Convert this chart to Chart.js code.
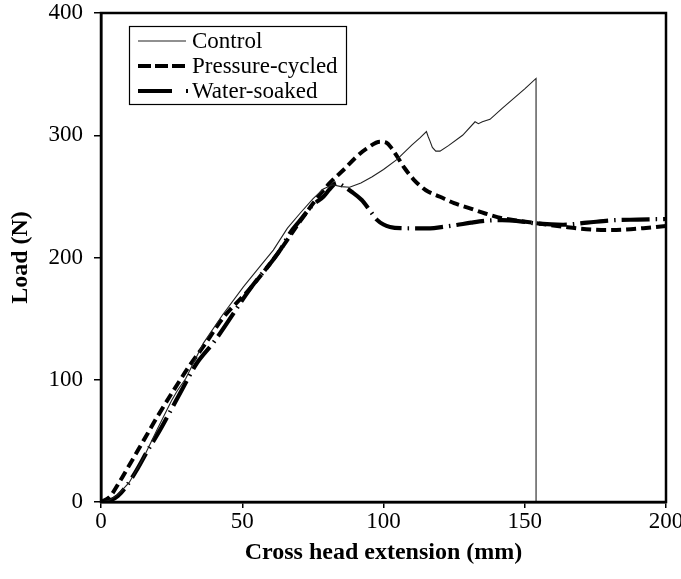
<!DOCTYPE html>
<html>
<head>
<meta charset="utf-8">
<script src="https://cdn.jsdelivr.net/npm/chart.js@4/dist/chart.umd.min.js"></script>
<style>
  html, body { margin: 0; padding: 0; background: #ffffff; }
  #wrap { width: 681px; height: 579px; position: relative; }
</style>
</head>
<body>
<div id="wrap"><canvas id="c" width="681" height="579"></canvas></div>
<script>
// ---- Data ----
const seriesNames = ["Control", "Pressure-cycled", "Water-soaked"];

const controlX = [0, 3, 6, 10, 15, 20, 25, 27, 30, 36.2, 43, 50.4, 56, 61, 66, 70.4, 75, 78.7, 82, 85, 88, 92, 96, 100, 104.7, 110, 113, 115.2, 115.8, 116.5, 117.3, 118.5, 120, 123, 128, 132.4, 133.6, 135, 137.7, 142, 146, 150, 154, 154];
const controlY = [0, 1.5, 6, 16, 36, 60, 83, 91, 101, 129.8, 153, 176, 192, 206, 224, 236, 248, 256, 259.5, 258, 257.5, 261, 266, 272, 280, 292, 298, 303, 299, 295, 290, 287, 287, 291.5, 300, 311, 309.5, 311, 313, 322, 330, 338, 346.5, 0];

const pressureX = [0, 3, 6.7, 10, 15, 20, 25.6, 31.5, 36.8, 43, 53.3, 63.4, 70, 76, 81, 86, 90.5, 94, 98.8, 101, 103, 105, 107.5, 110.6, 115, 120, 125, 130.6, 136, 142.4, 148, 154.2, 163.6, 170, 179, 185, 192, 200];
const pressureY = [0, 4, 17, 30, 50, 70, 91, 112, 129, 150, 176, 206, 228, 247, 261, 272, 282.5, 289, 294.7, 294, 289, 282, 273, 264, 255, 249.7, 244.5, 240.2, 236, 232, 230, 228, 225.2, 223.5, 222.5, 222.8, 224, 225.8];

const waterX = [0, 3, 6, 9, 12.6, 16, 20.9, 24, 28.6, 33.9, 40, 53.3, 63.4, 66.9, 70, 75, 78.7, 81, 83.4, 86, 88.7, 92.3, 95, 97.6, 100, 102.3, 106, 111, 116.5, 121, 125.9, 131, 137.7, 142, 147, 154.2, 163.6, 172, 181.3, 190, 200];
const waterY = [0, 1, 5, 13, 26, 40, 59, 72, 91.6, 113.5, 131, 176, 206, 220, 229, 243, 249.7, 256, 261, 258, 253.8, 247, 239, 231, 227, 225, 224, 223.9, 223.9, 225, 226.6, 228.5, 230.3, 230.5, 230, 227.8, 226.8, 228.5, 230.5, 231, 231.5];

const xTicks = [0, 50, 100, 150, 200];
const yTicks = [0, 100, 200, 300, 400];
const xTitle = "Cross head extension (mm)";
const yTitle = "Load (N)";

function pts(xs, ys) { return xs.map((x, i) => ({ x: x, y: ys[i] })); }

const SERIF = "'Liberation Serif', 'DejaVu Serif', serif";

// Frame around the plot area
const framePlugin = {
  id: 'frame',
  afterDatasetsDraw(chart) {
    const { ctx, chartArea: a } = chart;
    ctx.save();
    ctx.strokeStyle = '#000';
    ctx.lineWidth = 2.5;
    ctx.setLineDash([]);
    ctx.strokeRect(a.left, a.top, a.right - a.left, a.bottom - a.top);
    ctx.restore();
  }
};

// Boxed legend drawn inside the plot area
const boxLegendPlugin = {
  id: 'boxLegend',
  afterDraw(chart) {
    const { ctx } = chart;
    const bx = 129, by = 26, bw = 217, bh = 78;
    ctx.save();
    ctx.fillStyle = '#fff';
    ctx.fillRect(bx, by, bw, bh);
    ctx.strokeStyle = '#000';
    ctx.lineWidth = 1.2;
    ctx.setLineDash([]);
    ctx.strokeRect(bx + 0.5, by + 0.5, bw, bh);
    ctx.font = "23px " + SERIF;
    ctx.textBaseline = 'middle';
    ctx.textAlign = 'left';
    chart.data.datasets.forEach((ds, i) => {
      const cy = by + 15 + i * 25;
      ctx.beginPath();
      ctx.strokeStyle = ds.borderColor;
      ctx.lineWidth = ds.borderWidth;
      ctx.setLineDash(ds.legendDash || []);
      ctx.moveTo(138, cy);
      ctx.lineTo(ds.legendEnd || 186, cy);
      ctx.stroke();
      ctx.setLineDash([]);
      ctx.fillStyle = '#000';
      ctx.fillText(ds.label, 192, cy + 1);
    });
    ctx.restore();
  }
};

const chart = new Chart(document.getElementById('c'), {
  type: 'line',
  data: {
    datasets: [
      {
        label: seriesNames[0],
        data: pts(controlX, controlY),
        borderColor: '#222222',
        borderWidth: 1.1,
        pointRadius: 0,
        tension: 0,
        legendDash: []
      },
      {
        label: seriesNames[1],
        data: pts(pressureX, pressureY),
        borderColor: '#000000',
        borderWidth: 4,
        borderDash: [10, 5],
        pointRadius: 0,
        cubicInterpolationMode: 'monotone',
        legendDash: [13, 4]
      },
      {
        label: seriesNames[2],
        data: pts(waterX, waterY),
        borderColor: '#000000',
        borderWidth: 4.2,
        borderDash: [28, 6, 1.5, 6],
        pointRadius: 0,
        cubicInterpolationMode: 'monotone',
        legendDash: [34, 14, 2, 40],
        legendEnd: 189
      }
    ]
  },
  options: {
    responsive: false,
    animation: false,
    devicePixelRatio: 1,
    layout: { padding: { left: 0, right: 15, top: 13, bottom: 0 } },
    plugins: {
      legend: { display: false },
      tooltip: { enabled: false }
    },
    scales: {
      x: {
        type: 'linear',
        min: 0,
        max: 200,
        afterBuildTicks(scale) { scale.ticks = xTicks.map(v => ({ value: v })); },
        afterFit(scale) { scale.height = 77; scale.paddingLeft = 0; scale.paddingRight = 0; },
        border: { display: true, color: '#000', width: 2.5 },
        grid: { drawOnChartArea: false, drawTicks: true, tickLength: 6, color: '#000', lineWidth: 1.5 },
        ticks: { color: '#000', font: { family: SERIF, size: 23 }, padding: 0, maxRotation: 0 },
        title: {
          display: true,
          text: xTitle,
          color: '#000',
          font: { family: SERIF, size: 24, weight: 'bold' },
          padding: { top: 0, bottom: 12 }
        }
      },
      y: {
        type: 'linear',
        min: 0,
        max: 400,
        afterBuildTicks(scale) { scale.ticks = yTicks.map(v => ({ value: v })); },
        afterFit(scale) { scale.width = 101; scale.paddingTop = 0; scale.paddingBottom = 0; },
        border: { display: true, color: '#000', width: 2.5 },
        grid: { drawOnChartArea: false, drawTicks: true, tickLength: 7, color: '#000', lineWidth: 1.5 },
        ticks: { color: '#000', font: { family: SERIF, size: 23 }, padding: 11 },
        title: {
          display: true,
          text: yTitle,
          color: '#000',
          font: { family: SERIF, size: 24, weight: 'bold' },
          padding: { top: 6, bottom: 0 }
        }
      }
    }
  },
  plugins: [framePlugin, boxLegendPlugin]
});
</script>
</body>
</html>
